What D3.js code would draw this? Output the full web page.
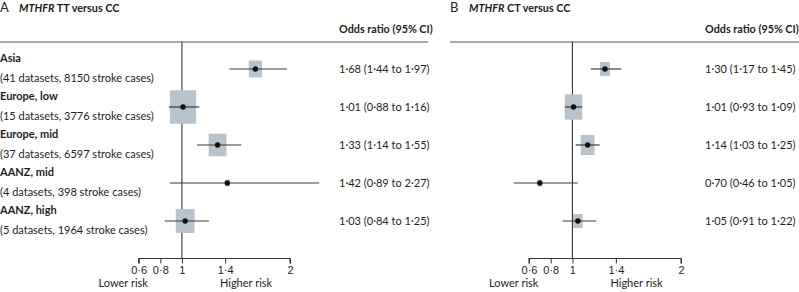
<!DOCTYPE html>
<html>
<head>
<meta charset="utf-8">
<script src="https://cdn.jsdelivr.net/npm/d3@7"></script>
<style>
  body { margin: 0; background: #fff; }
  svg { font-family: Lato, "Open Sans", sans-serif; color: #231f20; }
  .lbl { font-weight: 700; font-size: 11px; }
  .sub, .or, .tick-lbl, .risk { font-size: 11px; }
  .hdr { font-weight: 700; font-size: 10.8px; }
</style>
</head>
<body>
<svg id="chart" width="799" height="292"></svg>
<script>
/* ---------- Data ---------- */
const regions = ["Asia", "Europe, low", "Europe, mid", "AANZ, mid", "AANZ, high"];
const datasets = [41, 15, 37, 4, 5];
const strokeCases = [8150, 3776, 6597, 398, 1964];

// panel A: TT vs CC
const orA = [1.68, 1.01, 1.33, 1.42, 1.03];
const loA = [1.44, 0.88, 1.14, 0.89, 0.84];
const hiA = [1.97, 1.16, 1.55, 2.27, 1.25];
const weightA = [221, 880, 403, 32, 449];

// panel B: CT vs CC
const orB = [1.30, 1.01, 1.14, 0.70, 1.05];
const loB = [1.17, 0.93, 1.03, 0.46, 0.91];
const hiB = [1.45, 1.09, 1.25, 1.05, 1.22];
const weightB = [140, 442, 280, 31, 134];

const axisTicks = [0.6, 0.8, 1, 1.4, 2];

/* ---------- Helpers ---------- */
const dot = s => s.replace(/\./g, "\u00b7");
const fmt2 = v => dot(d3.format(".2f")(v));
const fmtTick = v => dot(String(v));

const svg = d3.select("#chart");
const ink = "#231f20";

const yScale = d3.scalePoint().domain(regions).range([69, 221]);
const ruleY = 42, axisY = 258.5;

function panel(cfg) {
    const {letter, gene, letterX, ruleX0, ruleX1, orX, xRange, or, lo, hi, weight, aspect} = cfg;
    const g = svg.append("g");
    const x = d3.scaleLinear().domain([0.6, 2]).range(xRange);

    // title
    const t = g.append("text").attr("x", letterX).attr("y", 12).attr("fill", ink);
    t.append("tspan").attr("font-size", 13).text(letter);
    t.append("tspan").attr("x", letterX + 19).attr("font-size", 10.8).attr("font-weight", 700)
        .attr("font-style", "italic").text("MTHFR");
    t.append("tspan").attr("font-size", 10.8).attr("font-weight", 700).text(" " + gene + " versus CC");

    g.append("text").attr("class", "hdr").attr("x", orX).attr("y", 33).attr("fill", ink)
        .text("Odds ratio (95% CI)");

    g.append("line").attr("x1", ruleX0).attr("x2", ruleX1).attr("y1", ruleY).attr("y2", ruleY)
        .attr("stroke", "#555").attr("stroke-width", 1);

    // reference line at 1
    g.append("line").attr("x1", x(1)).attr("x2", x(1)).attr("y1", ruleY).attr("y2", axisY)
        .attr("stroke", "#333").attr("stroke-width", 1.1);

    // axis
    const ax = g.append("g").attr("transform", `translate(0,${axisY})`)
        .call(d3.axisBottom(x).tickValues(axisTicks).tickFormat(fmtTick).tickSize(5).tickPadding(3));
    ax.select(".domain").attr("stroke", "#333").attr("stroke-width", 1.1)
        .attr("d", `M${x(0.6)},5V0H${x(2)}V5`);
    ax.selectAll(".tick line").attr("stroke", "#333");
    ax.selectAll(".tick text").attr("class", "tick-lbl").attr("fill", ink)
        .attr("font-family", null).attr("font-size", null);

    g.append("text").attr("class", "risk").attr("x", x(1) - 34).attr("y", 287)
        .attr("text-anchor", "end").attr("fill", ink).text("Lower risk");
    g.append("text").attr("class", "risk").attr("x", x(1) + 38).attr("y", 287)
        .attr("fill", ink).text("Higher risk");

    const rows = regions.map((r, i) => ({r, or: or[i], lo: lo[i], hi: hi[i], w: weight[i]}));

    // boxes
    g.append("g").selectAll("rect").data(rows).join("rect")
        .attr("x", d => x(d.or) - Math.sqrt(d.w / aspect) / 2)
        .attr("y", d => yScale(d.r) - Math.sqrt(d.w * aspect) / 2)
        .attr("width", d => Math.sqrt(d.w / aspect))
        .attr("height", d => Math.sqrt(d.w * aspect))
        .attr("fill", "#b8c3cc");

    // CI lines
    g.append("g").selectAll("line").data(rows).join("line")
        .attr("x1", d => x(d.lo)).attr("x2", d => x(d.hi))
        .attr("y1", d => yScale(d.r)).attr("y2", d => yScale(d.r))
        .attr("stroke", "#3a3a3a").attr("stroke-width", 1.2);

    g.append("g").selectAll("circle").data(rows).join("circle")
        .attr("cx", d => x(d.or)).attr("cy", d => yScale(d.r)).attr("r", 2.7)
        .attr("fill", "#111");

    g.append("g").selectAll("text").data(rows).join("text")
        .attr("class", "or").attr("x", orX).attr("y", d => yScale(d.r) + 4).attr("fill", ink)
        .text(d => `${fmt2(d.or)} (${fmt2(d.lo)} to ${fmt2(d.hi)})`);
}

// row labels (left side only)
const labels = svg.append("g");
regions.forEach((r, i) => {
    labels.append("text").attr("class", "lbl").attr("x", 0).attr("y", yScale(r) - 7)
        .attr("fill", ink).text(r);
    labels.append("text").attr("class", "sub").attr("x", 0).attr("y", yScale(r) + 13)
        .attr("fill", ink).text(`(${datasets[i]} datasets, ${strokeCases[i]} stroke cases)`);
});

panel({
    letter: "A", gene: "TT", letterX: 0, ruleX0: 0, ruleX1: 428, orX: 339,
    xRange: [138.7, 290], or: orA, lo: loA, hi: hiA, weight: weightA, aspect: 1.27
});
panel({
    letter: "B", gene: "CT", letterX: 450, ruleX0: 450, ruleX1: 799, orX: 705,
    xRange: [529, 681], or: orB, lo: loB, hi: hiB, weight: weightB, aspect: 1.45
});
</script>
</body>
</html>
